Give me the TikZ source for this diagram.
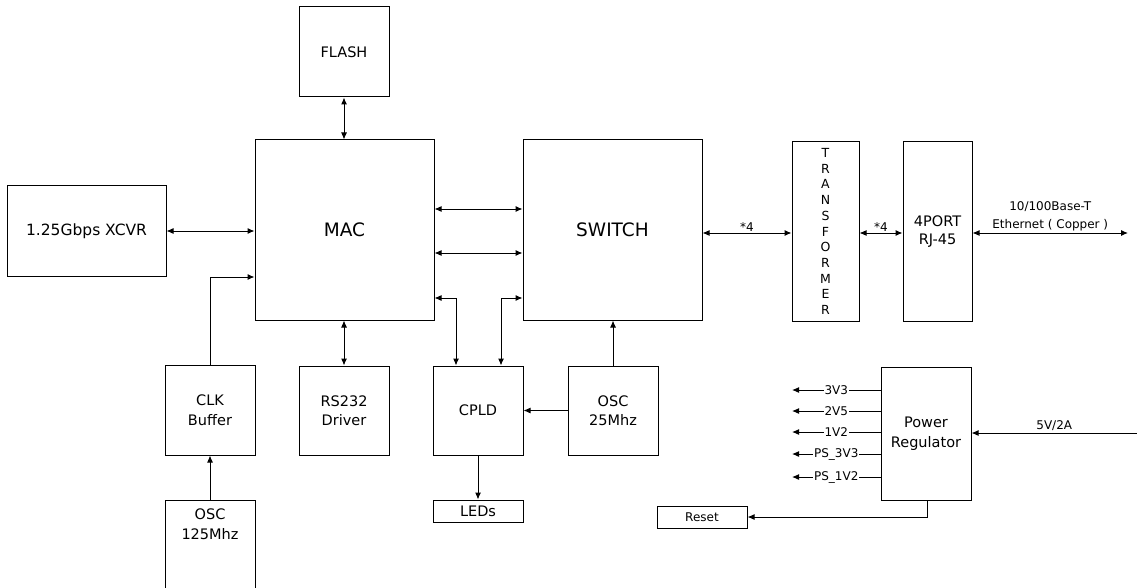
\documentclass[tikz,border=0pt]{standalone}
\usepackage{fontspec}
\setmainfont{DejaVu Sans}
\usetikzlibrary{arrows.meta}
\tikzset{
  box/.style={draw, line width=1pt, inner sep=0pt, align=center,
    font=\fontsize{14.5}{19.5}\selectfont},
  bigbox/.style={box, font=\fontsize{18.5}{22}\selectfont},
  conn/.style={line width=1pt},
  lab/.style={font=\fontsize{12}{17}\selectfont, inner sep=1.5pt},
  vlab/.style={lab, fill=white, inner sep=1pt},
  >={Latex[length=7pt,width=6pt]}
}
\begin{document}
\begin{tikzpicture}[x=1pt,y=-1pt]
\useasboundingbox (0,0) rectangle (1137,588);
% blocks
\node[box, minimum width=90pt, minimum height=90pt] (flash) at (344,52) {FLASH};
\node[bigbox, minimum width=179pt, minimum height=180pt] (mac) at (344.5,230) {MAC};
\node[bigbox, minimum width=179pt, minimum height=180pt] (switch) at (612.5,230) {SWITCH};
\node[box, minimum width=159pt, minimum height=90pt, font=\fontsize{15.5}{19}\selectfont] (xcvr) at (86.5,231) {1.25Gbps XCVR};
\node[box, minimum width=67pt, minimum height=179pt, font=\fontsize{12.5}{15.7}\selectfont] (trans) at (825.5,231.5) {T\\R\\A\\N\\S\\F\\O\\R\\M\\E\\R};
\node[box, minimum width=69pt, minimum height=179pt, font=\fontsize{14.5}{18}\selectfont] (rj45) at (937.5,231.5) {4PORT\\RJ-45};
\node[box, minimum width=90pt, minimum height=90pt] (clk) at (210,410) {CLK\\Buffer};
\node[box, minimum width=90pt, minimum height=89pt] (rs232) at (344,410.5) {RS232\\Driver};
\node[box, minimum width=90pt, minimum height=89pt] (cpld) at (478,410.5) {CPLD};
\node[box, minimum width=90pt, minimum height=89pt] (osc25) at (613,410.5) {OSC\\25Mhz};
\node[box, minimum width=90pt, minimum height=22pt] (leds) at (478,511) {LEDs};
\node[box, minimum width=90pt, minimum height=133pt] (power) at (926,433.5) {Power\\Regulator};
\node[box, minimum width=90pt, minimum height=22pt, font=\fontsize{12}{13}\selectfont] (reset) at (702,517) {Reset};
% OSC 125Mhz, cut by the lower edge
\node[box, draw=none] (osc125) at (210,524) {OSC\\125Mhz};
\coordinate (osc125top) at (210,500);
\draw[conn] (165,590) -- (165,500) -- (255,500) -- (255,590);
% connectors
\draw[conn,<->] (xcvr.east) -- (mac.west |- xcvr.east);
\draw[conn,<->] (flash.south) -- (mac.north -| flash.south);
\draw[conn,<->] (mac.east |- 0,209) -- (switch.west |- 0,209);
\draw[conn,<->] (mac.east |- 0,253) -- (switch.west |- 0,253);
\draw[conn,<->] (mac.east |- 0,298) -| (456,0 |- cpld.north);
\draw[conn,<->] (switch.west |- 0,298) -| (501,0 |- cpld.north);
\draw[conn,<->] (rs232.north) -- (mac.south -| rs232.north);
\draw[conn,->] (osc25.north) -- (switch.south -| osc25.north);
\draw[conn,->] (osc25.west) -- (cpld.east |- osc25.west);
\draw[conn,->] (cpld.south) -- (leds.north);
\draw[conn,->] (clk.north) |- (mac.west |- 0,277);
\draw[conn,->] (osc125top) -- (clk.south);
\draw[conn,<->] (switch.east |- 0,233) -- node[lab, above] {*4} (trans.west |- 0,233);
\draw[conn,<->] (trans.east |- 0,233) -- node[lab, above] {*4} (rj45.west |- 0,233);
\coordinate (eth) at (1128,233);
\draw[conn,<->] (rj45.east |- eth) -- node[lab, above, align=center, font=\fontsize{12}{18}\selectfont] {10/100Base-T\\Ethernet ( Copper )} (eth);
\coordinate (vin) at (1137,433);
\draw[conn,->] (vin) -- node[lab, above] {5V/2A} (power.east |- vin);
\coordinate (o1) at (792,390);
\coordinate (o2) at (792,411);
\coordinate (o3) at (792,432);
\coordinate (o4) at (792,454);
\coordinate (o5) at (792,477);
\draw[conn,->] (power.west |- o1) -- node[vlab] {3V3} (o1);
\draw[conn,->] (power.west |- o2) -- node[vlab] {2V5} (o2);
\draw[conn,->] (power.west |- o3) -- node[vlab] {1V2} (o3);
\draw[conn,->] (power.west |- o4) -- node[vlab] {PS\_3V3} (o4);
\draw[conn,->] (power.west |- o5) -- node[vlab] {PS\_1V2} (o5);
\draw[conn,->] (927,0 |- power.south) |- (reset.east);
\end{tikzpicture}
\end{document}
